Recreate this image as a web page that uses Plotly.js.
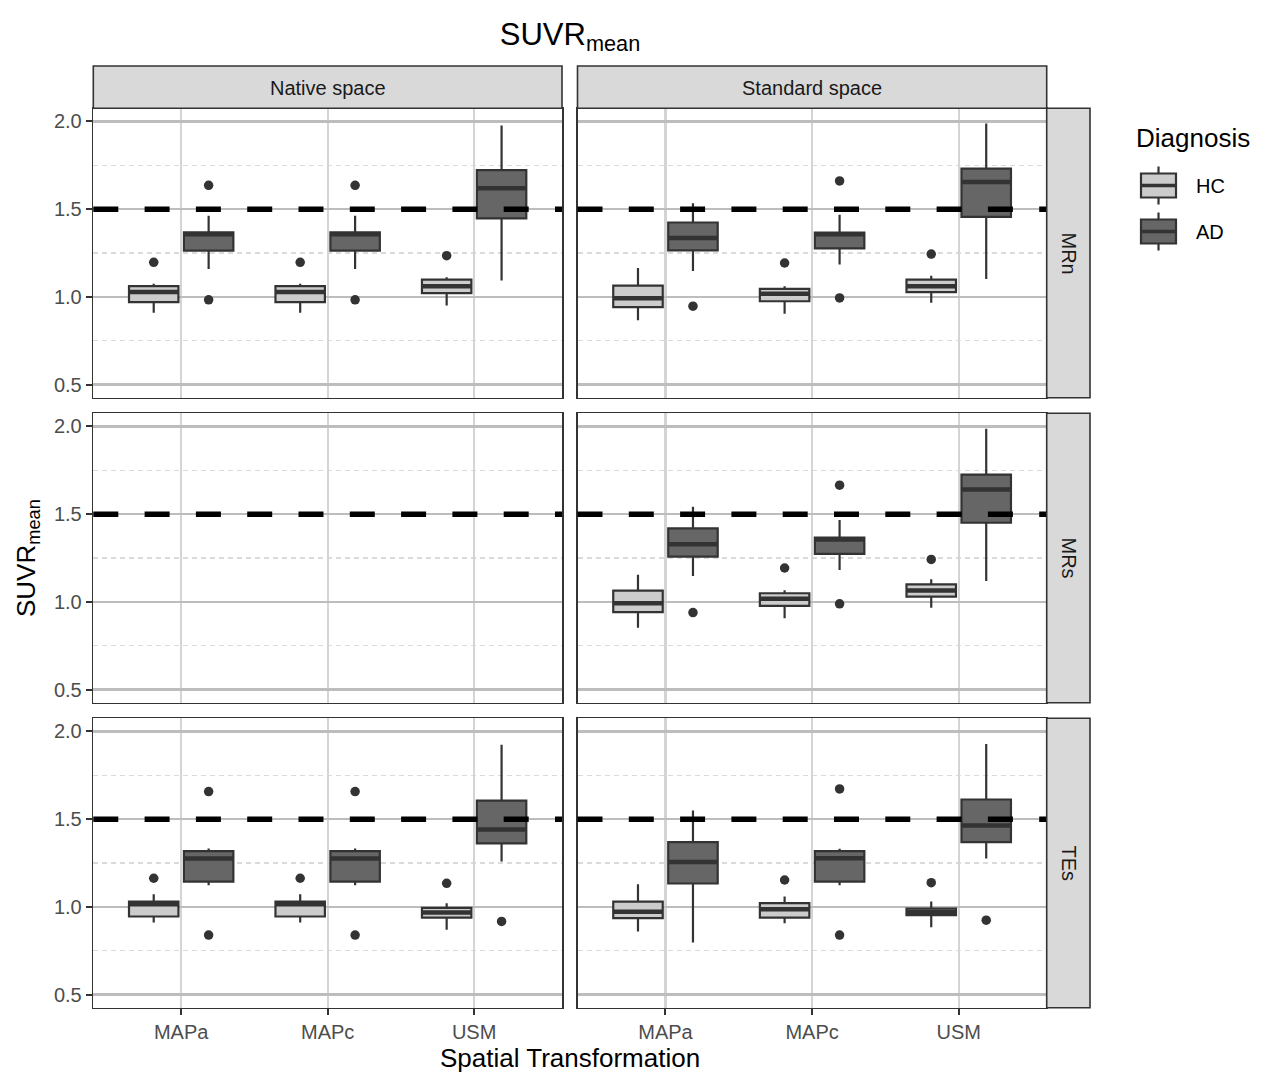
<!DOCTYPE html>
<html>
<head>
<meta charset="utf-8">
<script src="https://cdn.plot.ly/plotly-3.0.1.min.js"></script>
<style>html,body{margin:0;padding:0;background:#fff;}#chart{width:1269px;height:1072px;}</style>
</head>
<body>
<div id="chart"></div>
<script>
// ---------------- DATA ----------------
const categories = ['MAPa', 'MAPc', 'USM'];
const groups = ['HC', 'AD'];
const spaces = ['Native space', 'Standard space'];
const templates = ['MRn', 'MRs', 'TEs'];
const yTicks = [0.5, 1.0, 1.5, 2.0];
const yMinor = [0.75, 1.25, 1.75];
const threshold = 1.5;

// each row: [lower whisker, Q1, median, Q3, upper whisker] for MAPa, MAPc, USM
const nat_MRn_HC = [[0.909, 0.970, 1.027, 1.061, 1.074], [0.909, 0.970, 1.027, 1.061, 1.074], [0.951, 1.021, 1.061, 1.098, 1.112]];
const nat_MRn_AD = [[1.159, 1.263, 1.357, 1.368, 1.462], [1.159, 1.263, 1.357, 1.368, 1.462], [1.093, 1.447, 1.619, 1.723, 1.977]];
const nat_MRn_HC_out = [[1.197], [1.197], [1.235]];
const nat_MRn_AD_out = [[1.636, 0.983], [1.636, 0.983], []];

const std_MRn_HC = [[0.866, 0.941, 0.992, 1.064, 1.165], [0.903, 0.975, 1.017, 1.045, 1.061], [0.966, 1.027, 1.061, 1.098, 1.121]];
const std_MRn_AD = [[1.148, 1.265, 1.335, 1.424, 1.534], [1.184, 1.276, 1.357, 1.367, 1.468], [1.102, 1.456, 1.655, 1.731, 1.989]];
const std_MRn_HC_out = [[], [1.193], [1.244]];
const std_MRn_AD_out = [[0.947], [1.661, 0.994], []];

const std_MRs_HC = [[0.852, 0.941, 0.992, 1.064, 1.155], [0.907, 0.977, 1.017, 1.049, 1.066], [0.966, 1.030, 1.064, 1.100, 1.129]];
const std_MRs_AD = [[1.148, 1.258, 1.328, 1.419, 1.542], [1.182, 1.273, 1.356, 1.366, 1.466], [1.119, 1.451, 1.640, 1.725, 1.987]];
const std_MRs_HC_out = [[], [1.193], [1.242]];
const std_MRs_AD_out = [[0.939], [1.665, 0.989], []];

const nat_TEs_HC = [[0.911, 0.945, 1.015, 1.030, 1.072], [0.911, 0.945, 1.015, 1.030, 1.072], [0.869, 0.939, 0.968, 0.994, 1.021]];
const nat_TEs_AD = [[1.123, 1.144, 1.275, 1.318, 1.333], [1.123, 1.144, 1.275, 1.318, 1.333], [1.258, 1.362, 1.441, 1.606, 1.924]];
const nat_TEs_HC_out = [[1.163], [1.163], [1.134]];
const nat_TEs_AD_out = [[1.657, 0.839], [1.657, 0.839], [0.917]];

const std_TEs_HC = [[0.860, 0.936, 0.972, 1.030, 1.129], [0.907, 0.939, 0.987, 1.021, 1.059], [0.883, 0.953, 0.970, 0.990, 1.030]];
const std_TEs_AD = [[0.797, 1.133, 1.256, 1.369, 1.549], [1.123, 1.144, 1.277, 1.318, 1.331], [1.275, 1.369, 1.464, 1.612, 1.928]];
const std_TEs_HC_out = [[], [1.153], [1.138]];
const std_TEs_AD_out = [[], [1.672, 0.839], [0.924]];

// ---------------- LAYOUT HELPERS ----------------
const W = 1269, H = 1072;
const FONT = 'Liberation Sans, Arial, sans-serif';
const colPx = [[93.3, 562], [577.5, 1046.7]];
const rowPx = [[108.3, 397.7], [413.3, 702.7], [718.3, 1007.7]];
const fills = {HC: '#CCCCCC', AD: '#666666'};
const dodge = {HC: -0.1875, AD: 0.1875};
const boxWidth = 0.3375;
const px = v => v / W;
const py = v => 1 - v / H;

const panels = [
  {r: 0, c: 0, HC: nat_MRn_HC, AD: nat_MRn_AD, HCo: nat_MRn_HC_out, ADo: nat_MRn_AD_out},
  {r: 0, c: 1, HC: std_MRn_HC, AD: std_MRn_AD, HCo: std_MRn_HC_out, ADo: std_MRn_AD_out},
  {r: 1, c: 0, HC: null, AD: null},
  {r: 1, c: 1, HC: std_MRs_HC, AD: std_MRs_AD, HCo: std_MRs_HC_out, ADo: std_MRs_AD_out},
  {r: 2, c: 0, HC: nat_TEs_HC, AD: nat_TEs_AD, HCo: nat_TEs_HC_out, ADo: nat_TEs_AD_out},
  {r: 2, c: 1, HC: std_TEs_HC, AD: std_TEs_AD, HCo: std_TEs_HC_out, ADo: std_TEs_AD_out}
];

const traces = [];
const layout = {
  width: W, height: H,
  margin: {l: 0, r: 0, t: 0, b: 0},
  paper_bgcolor: '#FFFFFF', plot_bgcolor: '#FFFFFF',
  showlegend: false,
  boxmode: 'overlay',
  font: {family: FONT, color: '#000000'},
  title: {text: 'SUVR<sub>mean</sub>', x: px(570), xref: 'paper', xanchor: 'center', y: py(34), yref: 'paper', yanchor: 'middle', font: {family: FONT, size: 31, color: '#000000'}},
  shapes: [], annotations: []
};

const tickFont = {family: FONT, size: 20, color: '#4D4D4D'};

function addGroup(stats, outs, g, xa, ya) {
  const xs = categories.map((_, i) => i + 1 + dodge[g]);
  const col = k => stats.map(s => s[k]);
  traces.push({
    type: 'box', orientation: 'v', xaxis: xa, yaxis: ya, x: xs,
    lowerfence: col(0), q1: col(1), median: col(2), q3: col(3), upperfence: col(4),
    width: boxWidth, fillcolor: fills[g], line: {color: '#333333', width: 2.2},
    whiskerwidth: 0, boxpoints: false, hoverinfo: 'skip', showlegend: false, name: g
  });
  // thicker median line (ggplot style)
  traces.push({
    type: 'box', orientation: 'v', xaxis: xa, yaxis: ya, x: xs,
    lowerfence: col(2), q1: col(2), median: col(2), q3: col(2), upperfence: col(2),
    width: boxWidth * 0.985, fillcolor: 'rgba(0,0,0,0)', line: {color: '#333333', width: 4.5},
    whiskerwidth: 0, boxpoints: false, hoverinfo: 'skip', showlegend: false, name: g + ' median'
  });
  const ox = [], oy = [];
  outs.forEach((arr, i) => arr.forEach(v => { ox.push(i + 1 + dodge[g]); oy.push(v); }));
  if (ox.length) {
    traces.push({type: 'scatter', mode: 'markers', xaxis: xa, yaxis: ya, x: ox, y: oy,
      marker: {size: 9.5, color: '#333333'}, hoverinfo: 'skip', showlegend: false, name: g + ' outliers'});
  }
}

panels.forEach(p => {
  const n = p.r * 2 + p.c + 1;
  const xa = 'x' + n, ya = 'y' + n;
  const xk = 'xaxis' + (n === 1 ? '' : n), yk = 'yaxis' + (n === 1 ? '' : n);
  layout[xk] = {
    domain: [px(colPx[p.c][0]), px(colPx[p.c][1])], anchor: ya,
    range: [0.4, 3.6], tickmode: 'array', tickvals: categories.map((_, i) => i + 1), ticktext: categories,
    showticklabels: p.r === 2, ticks: p.r === 2 ? 'outside' : '', ticklen: 6, tickwidth: 2, tickcolor: '#333333',
    tickfont: tickFont, showgrid: true, gridcolor: '#D4D4D4', gridwidth: 2.2, zeroline: false,
    showline: true, mirror: true, linecolor: '#333333', linewidth: 1.6, fixedrange: true
  };
  layout[yk] = {
    domain: [py(rowPx[p.r][1]), py(rowPx[p.r][0])], anchor: xa,
    range: [0.425, 2.075], tickmode: 'array', tickvals: yTicks, ticktext: yTicks.map(v => v.toFixed(1)),
    showticklabels: p.c === 0, ticks: p.c === 0 ? 'outside' : '', ticklen: 6, tickwidth: 2, tickcolor: '#333333',
    tickfont: tickFont, showgrid: true, gridcolor: '#BDBDBD', gridwidth: 2.2, zeroline: false,
    minor: {tickmode: 'array', tickvals: yMinor, showgrid: true, gridcolor: '#DADADA', gridwidth: 1.2, griddash: '5px,4px', ticks: ''},
    showline: true, mirror: true, linecolor: '#333333', linewidth: 1.6, fixedrange: true
  };
  if (p.HC) {
    addGroup(p.HC, p.HCo, 'HC', xa, ya);
    addGroup(p.AD, p.ADo, 'AD', xa, ya);
  }
  layout.shapes.push({
    type: 'line', xref: xa + ' domain', yref: ya, x0: 0, x1: 1, y0: threshold, y1: threshold,
    line: {color: '#000000', width: 5.5, dash: '25px,26.3px'}, layer: 'above'
  });
});

// column strips
spaces.forEach((s, c) => {
  layout.shapes.push({type: 'rect', xref: 'paper', yref: 'paper',
    x0: px(colPx[c][0]), x1: px(colPx[c][1]), y0: py(108.3), y1: py(66),
    fillcolor: '#D9D9D9', line: {color: '#333333', width: 1.6}, layer: 'above'});
  layout.annotations.push({xref: 'paper', yref: 'paper', x: px((colPx[c][0] + colPx[c][1]) / 2), y: py(88),
    xanchor: 'center', yanchor: 'middle', text: s, showarrow: false, font: {family: FONT, size: 20, color: '#1A1A1A'}});
});
// row strips
templates.forEach((t, r) => {
  layout.shapes.push({type: 'rect', xref: 'paper', yref: 'paper',
    x0: px(1046.7), x1: px(1090), y0: py(rowPx[r][1]), y1: py(rowPx[r][0]),
    fillcolor: '#D9D9D9', line: {color: '#333333', width: 1.6}, layer: 'above'});
  layout.annotations.push({xref: 'paper', yref: 'paper', x: px(1068.5), y: py((rowPx[r][0] + rowPx[r][1]) / 2),
    xanchor: 'center', yanchor: 'middle', text: t, textangle: 90, showarrow: false, font: {family: FONT, size: 20, color: '#1A1A1A'}});
});

// axis titles
layout.annotations.push({xref: 'paper', yref: 'paper', x: px(570), y: py(1058), xanchor: 'center', yanchor: 'middle',
  text: 'Spatial Transformation', showarrow: false, font: {family: FONT, size: 26, color: '#000000'}});
layout.annotations.push({xref: 'paper', yref: 'paper', x: px(27), y: py(558), xanchor: 'center', yanchor: 'middle',
  text: 'SUVR<sub>mean</sub>', textangle: -90, showarrow: false, font: {family: FONT, size: 26, color: '#000000'}});

// legend (ggplot style keys)
layout.annotations.push({xref: 'paper', yref: 'paper', x: px(1134), y: py(138), xanchor: 'left', yanchor: 'middle',
  text: 'Diagnosis', showarrow: false, font: {family: FONT, size: 26, color: '#000000'}});
groups.forEach((g, i) => {
  const cy = 185.5 + i * 46;
  const x0 = 1141, x1 = 1176, xc = (x0 + x1) / 2;
  layout.shapes.push({type: 'line', xref: 'paper', yref: 'paper', x0: px(xc), x1: px(xc), y0: py(cy - 19), y1: py(cy + 19),
    line: {color: '#333333', width: 2.2}});
  layout.shapes.push({type: 'rect', xref: 'paper', yref: 'paper', x0: px(x0), x1: px(x1), y0: py(cy + 12), y1: py(cy - 12),
    fillcolor: fills[g], line: {color: '#333333', width: 2.2}});
  layout.shapes.push({type: 'line', xref: 'paper', yref: 'paper', x0: px(x0), x1: px(x1), y0: py(cy), y1: py(cy),
    line: {color: '#333333', width: 3.5}});
  layout.annotations.push({xref: 'paper', yref: 'paper', x: px(1194), y: py(cy + 1), xanchor: 'left', yanchor: 'middle',
    text: g, showarrow: false, font: {family: FONT, size: 20, color: '#000000'}});
});

Plotly.newPlot('chart', traces, layout, {staticPlot: true, displayModeBar: false});
</script>
</body>
</html>
